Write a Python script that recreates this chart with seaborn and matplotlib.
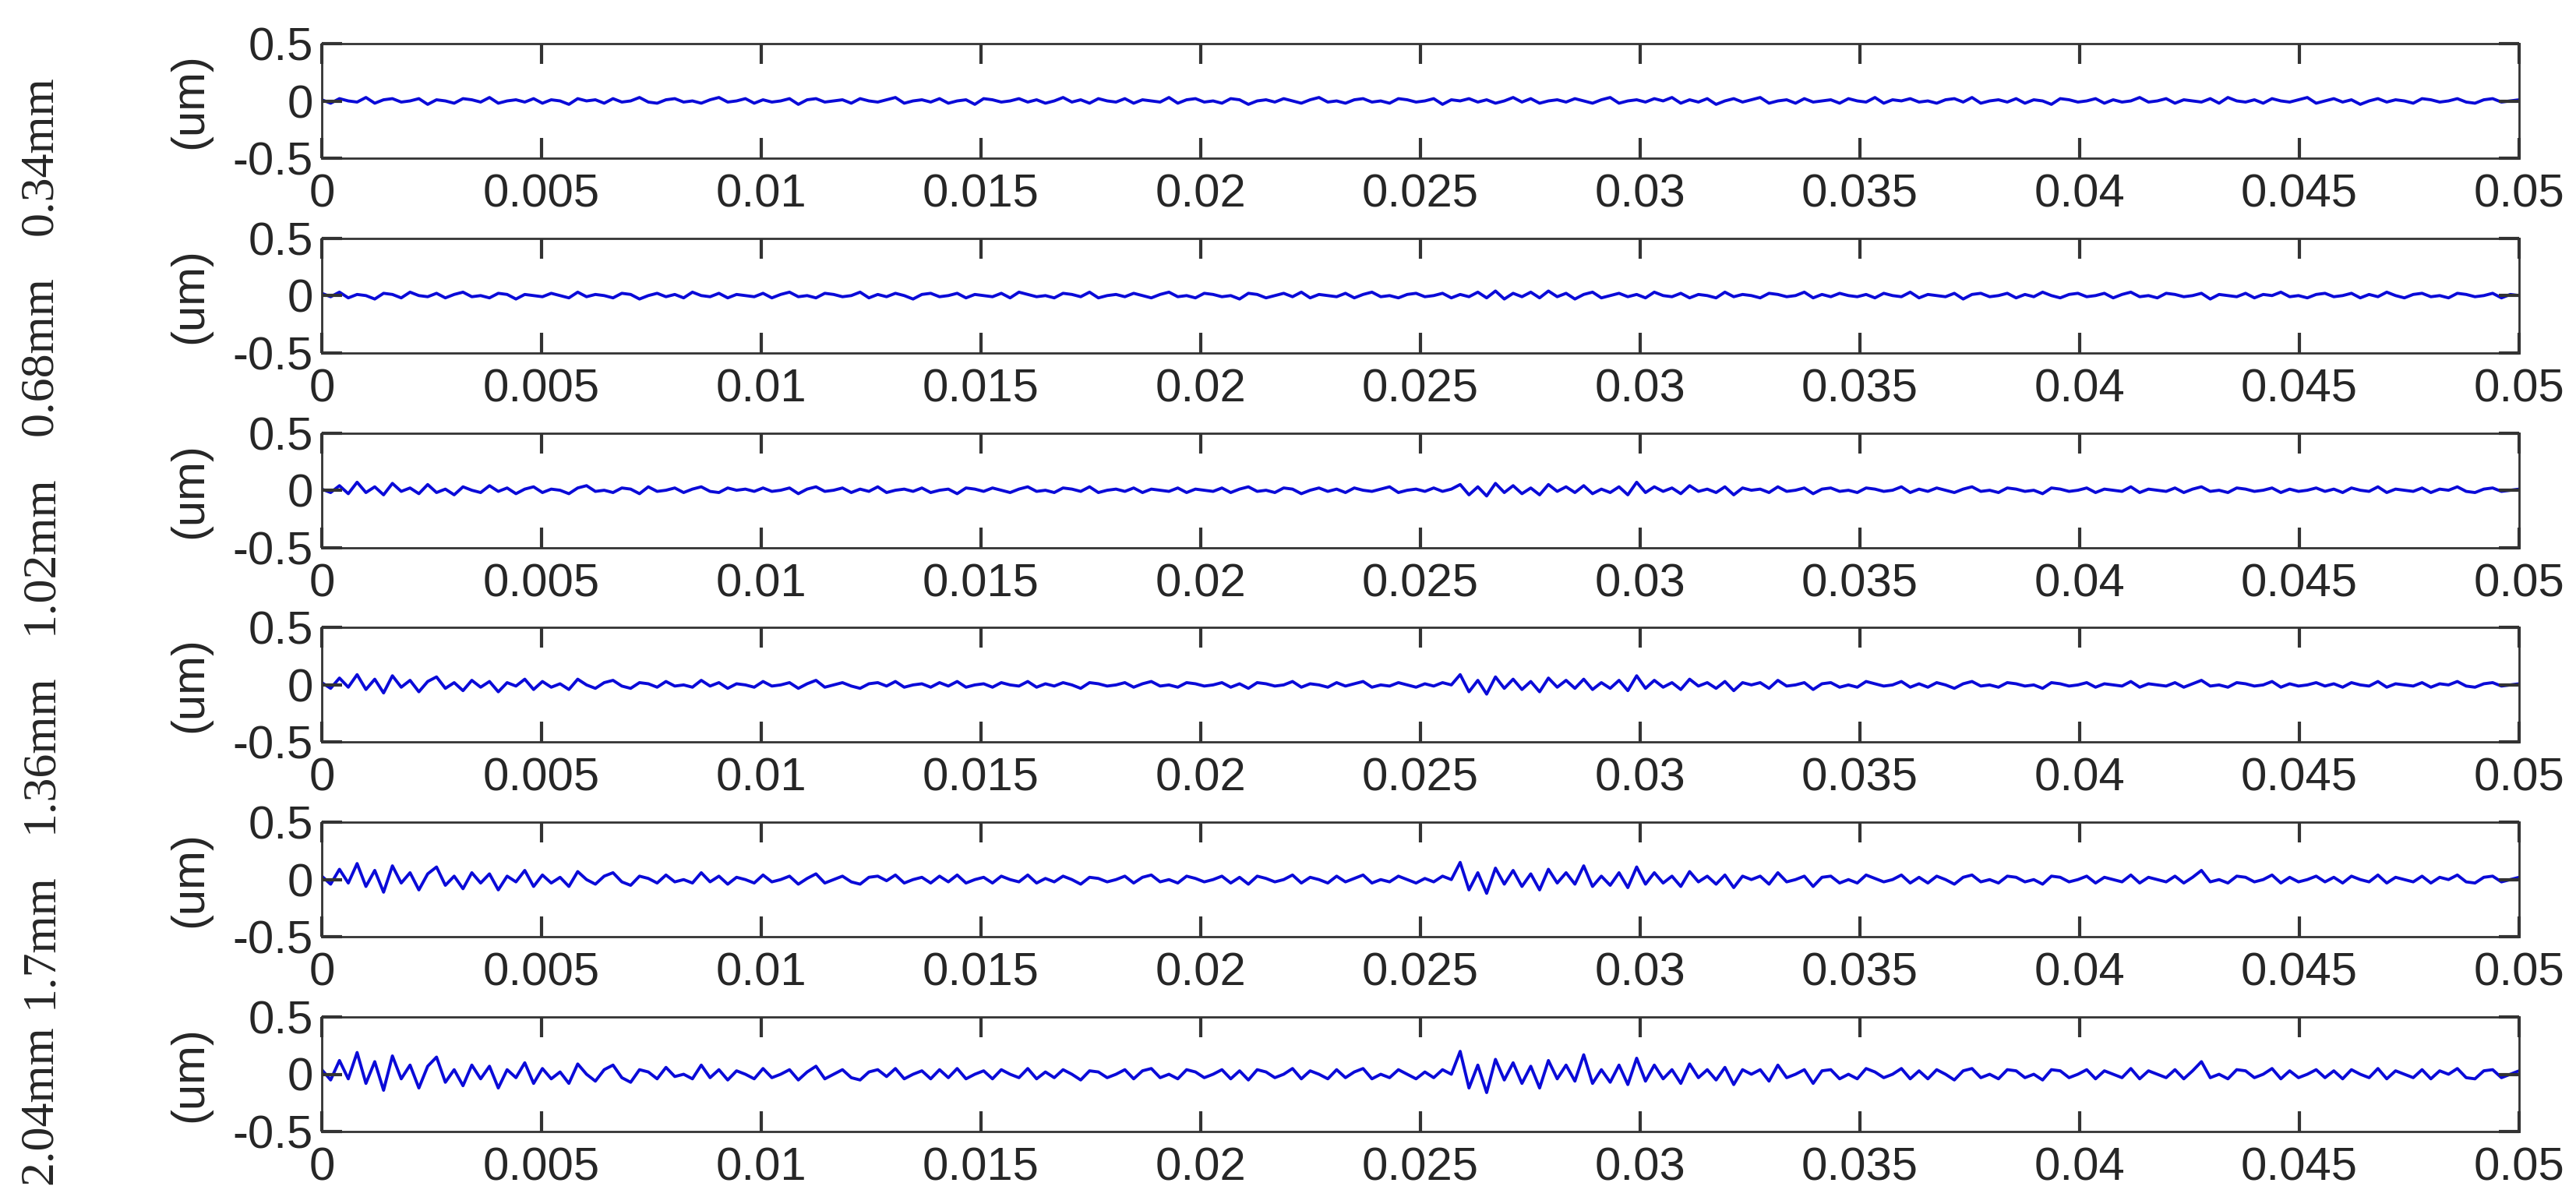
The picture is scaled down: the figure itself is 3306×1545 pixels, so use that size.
import numpy as np
import matplotlib
matplotlib.use("Agg")
import matplotlib.pyplot as plt
import seaborn as sns

depths = ["0.34mm", "0.68mm", "1.02mm", "1.36mm", "1.7mm", "2.04mm"]
xticks = [0, 0.005, 0.01, 0.015, 0.02, 0.025, 0.03, 0.035, 0.04, 0.045, 0.05]
xtick_labels = ["0", "0.005", "0.01", "0.015", "0.02", "0.025", "0.03",
                "0.035", "0.04", "0.045", "0.05"]
yticks = [-0.5, 0, 0.5]
ytick_labels = ["-0.5", "0", "0.5"]

# displacement, in units of 0.01 um
# 250 samples from t=0 to t=0.05, one row = 0.005
d034 = [1,-2,2,0,-1,3,-2,1,2,-1,0,2,-3,1,0,-2,2,1,-1,3,-2,0,1,-1,2,
        -2,1,0,-3,2,0,1,-2,2,-1,0,3,-1,-2,1,2,-1,0,-2,1,3,-1,0,2,-2,
        1,-1,0,2,-3,1,2,-1,0,1,-2,2,0,-1,1,3,-2,0,1,-1,2,-2,0,1,-3,
        2,1,-1,0,2,-1,1,-2,0,3,-1,1,-2,2,0,-1,2,-2,1,0,-1,3,-2,1,2,
        -1,0,-2,2,1,-3,0,1,-1,2,0,-2,1,3,-1,0,-2,1,2,-1,0,-2,2,1,-1,
        0,2,-3,1,0,2,-1,1,-2,0,3,-1,2,-2,0,1,-1,2,0,-2,1,3,-2,0,1,
        -1,2,0,3,-2,1,-1,2,-3,0,2,-1,1,3,-2,0,1,-2,2,-1,0,1,-2,2,0,
        -1,3,-2,1,0,2,-1,0,-2,1,2,-1,3,-2,0,1,-1,2,-2,1,0,-3,2,1,-1,
        0,2,-2,1,-1,0,3,-1,0,2,-2,1,0,-1,2,-2,3,0,-1,1,-2,2,0,-1,1,
        3,-2,0,2,-1,1,-3,0,2,-1,1,0,-2,2,1,-1,0,2,-1,-2,1,2,-1,0,1]

d068 = [2,-1,3,-2,1,0,-3,2,1,-2,3,0,-1,2,-2,1,3,-1,0,-2,2,1,-3,1,0,
        -1,2,0,-2,3,-1,1,0,-2,2,1,-3,0,2,-1,1,-2,3,0,-1,2,-2,1,0,-1,
        2,-2,1,3,-1,0,-2,2,1,-1,0,3,-2,1,-1,2,0,-3,1,2,-1,0,2,-2,1,
        0,-1,2,-2,3,1,-1,0,-2,2,1,-1,3,-2,0,1,-1,2,0,-2,1,3,-1,0,-2,
        2,1,-1,0,-3,2,1,-2,0,2,-1,3,-2,1,0,-1,2,-2,1,3,-1,0,-2,1,2,
        -1,0,2,-2,1,-1,3,-2,4,-3,2,-1,3,-2,4,-1,2,-3,1,3,-2,0,2,-1,1,
        -2,3,0,-1,2,-2,1,0,-2,3,-1,1,0,-2,2,1,-1,0,3,-2,1,-1,2,0,-1,
        1,-2,2,0,-1,3,-2,1,0,-1,2,-3,1,2,-1,0,2,-2,1,-1,3,0,-2,1,2,
        -1,0,2,-2,1,3,-1,0,-2,2,1,-1,0,2,-3,1,0,-1,2,-2,1,0,3,-1,0,
        -2,1,2,-1,0,2,-2,1,-1,3,0,-2,1,2,-1,0,-2,2,1,-1,0,2,-2,1,0]

d102 = [1,-2,4,-3,7,-2,3,-4,6,-1,2,-3,5,-2,1,-4,3,0,-2,4,-1,2,-3,1,3,
        -2,1,0,-3,2,4,-1,0,-2,2,1,-3,3,-1,0,2,-2,1,3,-1,-2,2,0,1,-1,
        2,-1,0,2,-3,1,3,-1,0,2,-2,1,-1,3,-2,0,1,-1,2,-2,0,1,-3,2,1,
        -1,2,0,-2,1,3,-1,0,-2,2,1,-1,3,-2,0,1,-1,2,-2,1,0,-1,2,-2,1,
        0,-1,2,-2,1,3,-1,0,-2,2,1,-3,0,2,-1,1,-2,2,0,-1,1,3,-2,0,1,
        -1,2,-1,1,5,-4,3,-5,6,-2,4,-3,2,-4,5,-1,3,-2,4,-3,1,-2,3,-4,7,
        -2,3,-1,2,-3,4,-1,1,-2,3,-4,2,0,1,-2,3,-1,0,2,-3,1,2,-1,0,-2,
        2,1,-1,0,3,-2,1,-1,2,0,-2,1,3,-1,0,-2,2,1,-1,0,-3,2,1,-1,0,
        2,-2,1,0,-1,3,-2,1,0,-1,2,-2,1,3,-1,0,-2,2,1,-1,0,2,-2,1,-1,
        0,2,-1,1,-2,2,0,-1,3,-2,1,0,-1,2,-2,1,0,3,-1,-2,1,2,-1,0,1]

d136 = [2,-3,6,-2,9,-4,5,-7,8,-2,4,-6,3,7,-3,2,-5,4,-2,3,-6,2,-1,5,-4,
        3,-2,1,-4,5,0,-3,2,4,-1,-3,2,1,-2,3,-1,0,-2,4,-1,2,-3,1,0,-2,
        3,-1,0,2,-3,1,4,-2,0,2,-1,-3,1,2,-1,3,-2,0,1,-2,2,-1,3,-2,0,
        1,-2,2,0,-1,3,-2,1,-1,2,0,-3,2,1,-1,0,2,-2,1,3,-1,0,-2,2,1,
        -1,0,2,-2,1,-3,2,1,-1,0,3,-2,1,0,-2,2,-1,1,3,-2,0,-1,2,0,-2,
        1,-1,2,0,9,-6,4,-8,7,-3,5,-4,3,-6,6,-2,4,-3,5,-4,2,-3,4,-5,8,
        -3,4,-2,2,-4,5,-1,2,-3,3,-5,2,0,2,-3,4,-1,0,2,-4,1,2,-2,0,-2,
        3,1,-1,0,3,-2,1,-2,2,0,-3,1,3,-1,0,-2,2,1,-1,0,-3,2,1,-1,0,
        2,-2,1,0,-1,3,-2,1,0,-1,2,-2,1,4,-1,0,-2,2,1,-1,0,3,-2,1,-1,
        0,2,-1,1,-2,2,0,-1,3,-2,1,0,-1,2,-2,1,0,3,-1,-2,1,2,-1,0,1]

d170 = [3,-4,9,-3,14,-6,8,-11,12,-3,6,-9,5,11,-5,3,-8,6,-3,5,-9,3,-2,8,-6,
        4,-3,2,-6,7,0,-4,3,6,-2,-5,3,1,-3,4,-2,0,-3,6,-2,3,-4,2,0,-3,
        4,-2,0,3,-4,1,5,-3,0,3,-2,-4,2,3,-1,4,-3,0,2,-3,3,-2,4,-3,0,
        2,-3,3,0,-2,4,-3,1,-2,3,0,-4,2,1,-2,0,3,-3,2,4,-2,0,-3,3,1,
        -2,0,3,-3,2,-4,3,1,-2,0,4,-3,2,0,-3,3,-2,1,4,-3,0,-2,3,0,-3,
        1,-2,3,0,15,-9,6,-12,10,-4,8,-6,5,-9,9,-3,6,-4,12,-6,3,-5,6,-7,11,
        -4,6,-3,3,-6,7,-2,3,-4,4,-7,3,0,3,-4,6,-2,0,3,-6,2,3,-3,0,-3,
        4,1,-2,0,4,-3,2,-3,3,0,-4,2,4,-2,0,-3,3,2,-2,0,-4,3,2,-2,0,
        3,-3,2,0,-2,4,-3,2,0,-2,3,-3,2,8,-2,0,-3,3,2,-2,0,4,-3,2,-2,
        0,3,-2,2,-3,3,0,-2,4,-3,2,0,-2,3,-3,2,0,4,-2,-3,2,3,-2,0,2]

d204 = [4,-5,12,-4,19,-8,11,-14,16,-4,8,-12,7,15,-7,4,-10,8,-4,7,-12,4,-3,10,-8,
        5,-4,2,-8,9,0,-6,4,8,-3,-7,4,2,-4,6,-2,0,-4,8,-3,4,-5,3,0,-4,
        5,-3,0,4,-5,2,7,-4,0,4,-3,-5,2,4,-2,5,-4,0,3,-4,4,-3,5,-4,0,
        3,-4,4,0,-3,5,-4,2,-3,4,0,-5,3,2,-3,0,4,-4,3,5,-3,0,-4,4,2,
        -3,0,4,-4,3,-5,4,2,-3,0,5,-4,3,0,-4,4,-3,2,5,-4,0,-3,4,0,-4,
        2,-3,4,0,20,-12,8,-16,13,-5,10,-8,7,-12,12,-4,8,-6,17,-8,4,-7,8,-9,14,
        -6,8,-4,4,-8,9,-3,4,-5,6,-9,4,0,4,-6,8,-3,0,4,-8,3,4,-4,0,-4,
        5,2,-3,0,5,-4,3,-4,4,0,-5,3,5,-3,0,-4,4,3,-3,0,-5,4,3,-3,0,
        4,-4,3,0,-3,5,-4,3,0,-3,4,-4,3,11,-3,0,-4,4,3,-3,0,5,-4,3,-3,
        0,4,-3,3,-4,4,0,-3,5,-4,3,0,-3,4,-4,3,0,5,-3,-4,3,4,-3,0,3]

traces = [d034, d068, d102, d136, d170, d204]

sns.set_style("ticks")
plt.rcParams["font.family"] = ["Liberation Sans", "DejaVu Sans"]

W, H = 3306, 1545
fig = plt.figure(figsize=(W / 100, H / 100), dpi=100)

left, right = 413, 3233
ax_h = 147
label_y = [200, 457, 712, 967, 1207, 1418]
frame = "#333333"

for i, (name, vals) in enumerate(zip(depths, traces)):
    top = 56 + 249.8 * i
    ax = fig.add_axes([left / W, (H - top - ax_h) / H, (right - left) / W, ax_h / H])
    y = np.array(vals) / 100.0
    t = np.linspace(0, 0.05, len(y))
    sns.lineplot(x=t, y=y, ax=ax, color="#0a0ad8", linewidth=2.8,
                 estimator=None, sort=False, zorder=1)
    ax.set_xlim(0, 0.05)
    ax.set_ylim(-0.5, 0.5)
    ax.set_xticks(xticks)
    ax.set_xticklabels(xtick_labels)
    ax.set_yticks(yticks)
    ax.set_yticklabels(ytick_labels)
    ax.tick_params(which="major", direction="in", length=19, width=3,
                   color=frame, labelsize=43,
                   bottom=True, top=True, left=True, right=True)
    ax.tick_params(axis="x", pad=14)
    ax.tick_params(axis="y", pad=8)
    ax.xaxis.set_zorder(5)
    ax.yaxis.set_zorder(5)
    for s in ax.spines.values():
        s.set_visible(True)
        s.set_color(frame)
        s.set_linewidth(2.0)
    ax.set_xlabel("")
    ax.set_ylabel("")

    yc = top + ax_h / 2
    fig.text(244 / W, 1 - yc / H, "(um)", rotation=90, ha="center",
             va="center", fontsize=43)
    fig.text(51 / W, 1 - label_y[i] / H, name, rotation=90, ha="center",
             va="center", fontsize=44.6, family=["Liberation Serif", "DejaVu Serif"])

fig.savefig("out.png", dpi=100)
